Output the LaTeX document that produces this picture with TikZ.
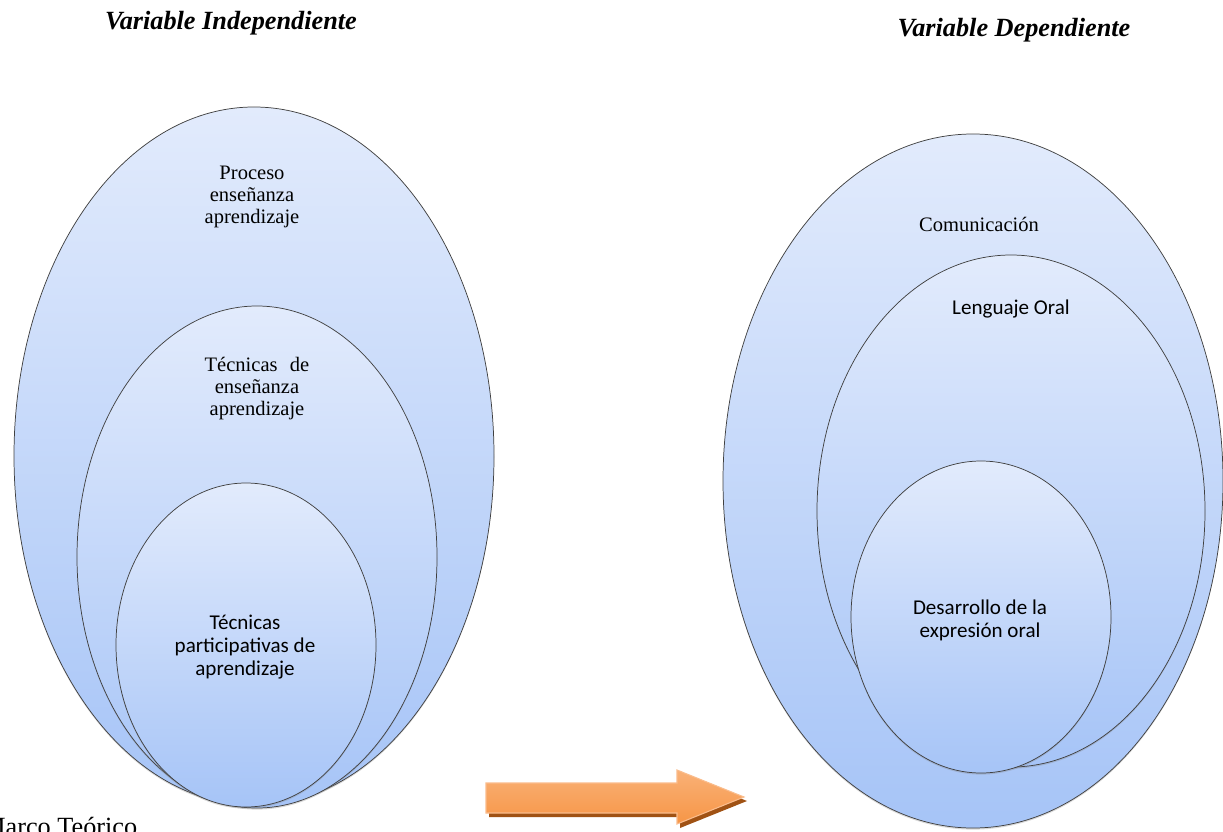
\documentclass[tikz,border=0pt]{standalone}
\usepackage{fontspec}
\setmainfont{Liberation Serif}
\newfontfamily\sansf{Carlito}
\usetikzlibrary{shapes.geometric,shadows}
\definecolor{elltop}{RGB}{226,235,252}
\definecolor{ellbot}{RGB}{166,196,247}
\definecolor{orangeA}{RGB}{247,150,70}
\definecolor{orangeL}{RGB}{250,188,140}
\definecolor{orangeS}{RGB}{160,82,20}
\begin{document}
\begin{tikzpicture}[x=0.75pt,y=-0.75pt,
  ell/.style={ellipse, draw=black!75, line width=0.55pt, top color=elltop, bottom color=ellbot, inner sep=0pt,
    drop shadow={shadow xshift=0pt, shadow yshift=-1.2pt, opacity=0.3}},
  serif/.style={align=center, font=\fontsize{15.4}{16.5}\selectfont, inner sep=0pt},
  sans/.style={align=center, font=\sansf\fontsize{15.8}{17.3}\selectfont, inner sep=0pt},
  head/.style={font=\bfseries\itshape\fontsize{19.7}{22}\selectfont, inner sep=0pt},
  arrowbody/.style={top color=orangeL!70!orangeA, bottom color=orangeA, draw=orangeL, line width=0.8pt}]
\useasboundingbox (0,0) rectangle (1223,831);

% headings
\node[head] (vi) at (231,23) {Variable Independiente};
\node[head] (vd) at (1014,30) {Variable Dependiente};

% left ellipses
\node[ell, minimum width=360pt, minimum height=523.5pt] (LO) at (254,456) {};
\node[ell, minimum width=270pt, minimum height=376.5pt] (LM) at (257,557) {};
\node[ell, minimum width=195pt, minimum height=243pt] (LI) at (246,645) {};

% right ellipses
\node[ell, minimum width=375pt, minimum height=520.5pt] (RO) at (973,481) {};
\node[ell, minimum width=291pt, minimum height=384pt] (RM) at (1011,511) {};
\node[ell, minimum width=195pt, minimum height=234pt] (RI) at (981,617) {};

% texts
\node[serif] (t1) at (252,197) {Proceso\\enseñanza\\aprendizaje};
\node[serif] (t2) at (257,389) {Técnicas\hspace{0.35em} de\\enseñanza\\aprendizaje};
\node[sans] (t3) at (245,647) {Técnicas\\participativas de\\aprendizaje};
\node[serif] (t4) at (979,224) {Comunicación};
\node[sans] (t5) at (1011,309) {Lenguaje Oral};
\node[sans] (t6) at (980,620) {Desarrollo de la\\expresión oral};

\node[anchor=base west, font=\fontsize{19.7}{22}\selectfont, inner sep=0pt] (marco) at (-18,835) {Marco Teórico};

% block arrow
\begin{scope}[shift={(3,4)}]
\fill[orangeS] (486,783) -- (677,783) -- (677,770) -- (744,797) -- (677,824) -- (677,813) -- (486,813) -- cycle;
\end{scope}
\path[arrowbody] (486,783) -- (677,783) -- (677,770) -- (744,797) -- (677,824) -- (677,813) -- (486,813) -- cycle;
\end{tikzpicture}
\end{document}
